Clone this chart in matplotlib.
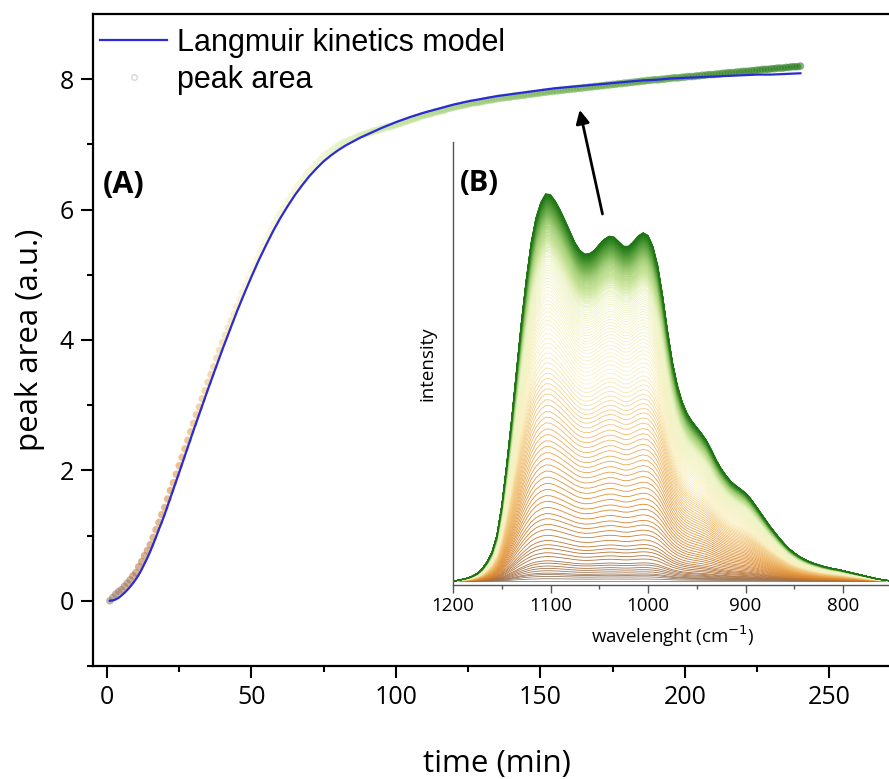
import numpy as np
import matplotlib
matplotlib.use("Agg")
import matplotlib.pyplot as plt
from matplotlib.colors import LinearSegmentedColormap
from matplotlib.lines import Line2D

# (A) peak area, one scan per minute
time_min = np.arange(1, 241)
peak_area = [
    0.00, 0.05, 0.10, 0.14, 0.17, 0.22, 0.27, 0.32, 0.38, 0.43,
    0.52, 0.60, 0.69, 0.77, 0.86, 0.97, 1.09, 1.20, 1.32, 1.43,
    1.56, 1.69, 1.81, 1.94, 2.07, 2.20, 2.33, 2.46, 2.59, 2.72,
    2.85, 2.97, 3.10, 3.22, 3.35, 3.47, 3.59, 3.72, 3.84, 3.96,
    4.07, 4.18, 4.29, 4.40, 4.51, 4.62, 4.73, 4.83, 4.94, 5.04,
    5.14, 5.24, 5.34, 5.43, 5.52, 5.61, 5.70, 5.78, 5.86, 5.94,
    6.01, 6.08, 6.15, 6.22, 6.29, 6.35, 6.41, 6.47, 6.53, 6.58,
    6.63, 6.68, 6.72, 6.77, 6.81, 6.85, 6.88, 6.91, 6.95, 6.98,
    7.00, 7.03, 7.04, 7.07, 7.08, 7.10, 7.12, 7.14, 7.15, 7.17,
    7.18, 7.20, 7.21, 7.22, 7.24, 7.25, 7.27, 7.27, 7.29, 7.30,
    7.32, 7.33, 7.35, 7.36, 7.38, 7.39, 7.41, 7.42, 7.44, 7.45,
    7.46, 7.47, 7.49, 7.50, 7.51, 7.52, 7.53, 7.55, 7.56, 7.57,
    7.58, 7.59, 7.60, 7.61, 7.62, 7.63, 7.64, 7.64, 7.65, 7.66,
    7.67, 7.68, 7.68, 7.69, 7.70, 7.71, 7.71, 7.72, 7.72, 7.73,
    7.74, 7.74, 7.75, 7.75, 7.76, 7.77, 7.77, 7.78, 7.78, 7.79,
    7.80, 7.80, 7.81, 7.81, 7.82, 7.82, 7.83, 7.83, 7.84, 7.84,
    7.85, 7.85, 7.86, 7.86, 7.87, 7.87, 7.88, 7.88, 7.89, 7.89,
    7.90, 7.90, 7.91, 7.91, 7.92, 7.92, 7.93, 7.93, 7.94, 7.94,
    7.95, 7.95, 7.96, 7.96, 7.97, 7.97, 7.98, 7.98, 7.99, 7.99,
    7.99, 8.00, 8.00, 8.01, 8.01, 8.02, 8.02, 8.02, 8.03, 8.03,
    8.04, 8.04, 8.04, 8.05, 8.05, 8.06, 8.06, 8.07, 8.07, 8.07,
    8.08, 8.08, 8.09, 8.09, 8.10, 8.10, 8.10, 8.11, 8.11, 8.12,
    8.12, 8.12, 8.13, 8.13, 8.14, 8.14, 8.15, 8.15, 8.15, 8.16,
    8.16, 8.17, 8.17, 8.17, 8.18, 8.18, 8.19, 8.19, 8.19, 8.20,
]

# Langmuir kinetics model fit
model_time = [1, 2, 3, 4, 5, 6, 7, 8, 9, 10, 11, 12, 13, 14, 15, 16, 17, 18,
              19, 20, 25, 30, 35, 40, 42.5, 45, 47.5, 50, 52.5, 55, 57.5, 60,
              62.5, 65, 67.5, 70, 72.5, 75, 77.5, 80, 82.5, 85, 87.5, 90, 95,
              100, 105, 110, 115, 120, 125, 130, 135, 140, 145, 150, 155, 160,
              165, 170, 175, 180, 185, 190, 195, 200, 205, 210, 215, 220, 225,
              230, 235, 240]
model_area = [0.00, 0.005, 0.02, 0.045, 0.08, 0.12, 0.165, 0.215, 0.27, 0.33,
              0.40, 0.48, 0.57, 0.66, 0.76, 0.87, 0.98, 1.10, 1.21, 1.33,
              1.97, 2.62, 3.25, 3.86, 4.15, 4.44, 4.71, 4.97, 5.22, 5.45,
              5.67, 5.87, 6.05, 6.22, 6.37, 6.51, 6.63, 6.74, 6.83, 6.91,
              6.98, 7.04, 7.10, 7.15, 7.25, 7.34, 7.42, 7.49, 7.55, 7.61,
              7.66, 7.70, 7.74, 7.77, 7.80, 7.83, 7.86, 7.88, 7.90, 7.92,
              7.94, 7.96, 7.98, 7.99, 8.01, 8.02, 8.03, 8.04, 8.05, 8.06,
              8.07, 8.07, 8.08, 8.09]

# (B) normalised spectrum of the final scan
wavenumber = np.arange(1200, 749, -5)
spectrum = [
    0.000, 0.002, 0.005, 0.008, 0.013, 0.020, 0.032, 0.050, 0.075, 0.118,
    0.195, 0.300, 0.415, 0.540, 0.665, 0.775, 0.870, 0.935, 0.975, 0.997,
    0.995, 0.978, 0.955, 0.928, 0.900, 0.872, 0.852, 0.842, 0.843, 0.852,
    0.867, 0.880, 0.888, 0.886, 0.874, 0.862, 0.862, 0.874, 0.889, 0.897,
    0.890, 0.862, 0.812, 0.735, 0.645, 0.565, 0.505, 0.462, 0.432, 0.412,
    0.396, 0.380, 0.362, 0.338, 0.312, 0.290, 0.272, 0.257, 0.246, 0.237,
    0.227, 0.213, 0.196, 0.178, 0.160, 0.142, 0.126, 0.110, 0.096, 0.083,
    0.073, 0.064, 0.057, 0.051, 0.046, 0.042, 0.038, 0.035, 0.032, 0.030,
    0.027, 0.024, 0.021, 0.018, 0.015, 0.012, 0.009, 0.006, 0.004, 0.002,
    0.000,
]

plt.rcParams['font.family'] = 'Open Sans'

scan_cmap = LinearSegmentedColormap.from_list('scan', [
    (0.0, '#8f7a68'), (0.04, '#b0703a'), (0.09, '#e08a2e'), (0.15, '#f0c070'),
    (0.20, '#faf0c0'), (0.30, '#eef5c8'), (0.42, '#bfe08f'), (0.60, '#7fb85a'),
    (0.85, '#3d8c2a'), (1.0, '#1f7514')])
area = np.array(peak_area)
colors = scan_cmap(np.linspace(0, 1, len(area)))

fig = plt.figure(figsize=(8.89, 7.79), dpi=100)
ax = fig.add_axes([0.1041, 0.1451, 0.910, 0.8370])

ax.scatter(time_min, area, s=30, c=colors, alpha=0.55, linewidths=0, zorder=2)
ax.plot(model_time, model_area, color='#2a2ad6', lw=1.6, zorder=3)

ax.set_xlim(-5, 275)
ax.set_ylim(-1, 9)
ax.set_xticks(range(0, 251, 50))
ax.set_xticks(range(25, 276, 50), minor=True)
ax.set_yticks(range(0, 9, 2))
ax.set_yticks(range(-1, 9, 2), minor=True)
ax.tick_params(which='major', direction='out', length=8.5, width=1.5,
               labelsize=18, pad=5, top=False, right=False)
ax.tick_params(which='minor', direction='out', length=4.5, width=1.5,
               top=False, right=False)
for side in ['left', 'bottom', 'top']:
    ax.spines[side].set_linewidth(1.6)
ax.spines['right'].set_visible(False)
ax.set_xlabel('time (min)', fontsize=22.5, labelpad=28)
ax.set_ylabel('peak area (a.u.)', fontsize=22.5, labelpad=10.5)

handles = [Line2D([], [], color='#2a2ad6', lw=1.6),
           Line2D([], [], ls='none', marker='o', mfc='none', mec='#d8d8d8', ms=4)]
ax.legend(handles, ['Langmuir kinetics model', 'peak area'], loc='upper left',
          bbox_to_anchor=(0.0, 0.99), frameon=False, handlelength=2.2,
          handletextpad=0.33, labelspacing=0.22, borderaxespad=0.0,
          borderpad=0.25, prop={'family': 'Liberation Sans', 'size': 22})

ax.text(0.013, 0.738, '(A)', transform=ax.transAxes, fontsize=22,
        fontweight='bold', va='center', ha='left')

ax.annotate('', xy=(163.4, 7.57), xytext=(171.7, 5.89),
            arrowprops=dict(arrowstyle='-|>', lw=2, color='black', mutation_scale=20),
            zorder=5)

# inset (B)
axi = fig.add_axes([0.5096, 0.2490, 0.4935, 0.5687])
axi.set_facecolor('none')
spec = np.array(spectrum)
for a, col in zip(area, colors):
    axi.plot(wavenumber, spec * a / area.max(), color=col, lw=0.6)

axi.set_xlim(1200, 750)
axi.set_ylim(-0.01, 1.13)
axi.set_xticks(range(1200, 799, -100))
axi.set_xticks(range(1150, 750, -100), minor=True)
axi.set_yticks([])
for side in ['top', 'right']:
    axi.spines[side].set_visible(False)
for side in ['left', 'bottom']:
    axi.spines[side].set_color('#555555')
    axi.spines[side].set_linewidth(1.0)
axi.tick_params(which='major', direction='out', length=5.5, width=1.0,
                color='#555555', labelsize=13.5, pad=3)
axi.tick_params(which='minor', direction='out', length=3, width=1.0, color='#555555')
axi.set_xlabel('wavelenght (cm$^{-1}$)', fontsize=13.5, labelpad=6)
axi.set_ylabel('intensity', fontsize=13.5, labelpad=12)
axi.text(0.016, 0.907, '(B)', transform=axi.transAxes, fontsize=21,
         fontweight='bold', va='center', ha='left')

fig.savefig('out.png', dpi=100)
